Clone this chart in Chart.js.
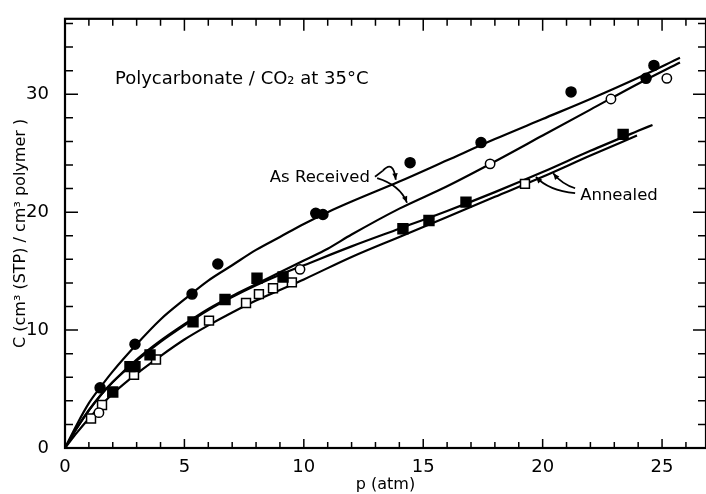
<!DOCTYPE html>
<html lang="en">
<head>
<meta charset="UTF-8">
<title>Polycarbonate / CO2 at 35°C</title>
<script src="https://cdn.jsdelivr.net/npm/chart.js"></script>
<style>
  html, body { margin: 0; padding: 0; background: #fff; }
</style>
</head>
<body>
<canvas id="chart" width="706" height="494"></canvas>
<script>
// measured points: p in atm, C in cm3(STP)/cm3 polymer
var arSorbP = [1.47, 2.93, 5.32, 6.4, 10.5, 10.8, 14.45, 17.42, 21.19, 24.33, 24.66];
var arSorbC = [5.1, 8.8, 13.05, 15.6, 19.9, 19.8, 24.2, 25.9, 30.2, 31.35, 32.45];
var arDesP = [1.42, 9.84, 17.8, 22.86, 25.2];
var arDesC = [3.0, 15.15, 24.1, 29.6, 31.35];
var anSorbP = [2.0, 2.72, 2.93, 3.56, 5.36, 6.7, 8.04, 9.13, 14.15, 15.24, 16.79, 23.37];
var anSorbC = [4.75, 6.9, 6.9, 7.9, 10.7, 12.6, 14.4, 14.5, 18.6, 19.3, 20.85, 26.6];
var anDesP = [1.09, 1.55, 2.89, 3.81, 6.03, 7.58, 8.12, 8.71, 9.5, 19.26];
var anDesC = [2.5, 3.65, 6.2, 7.5, 10.8, 12.3, 13.05, 13.55, 14.05, 22.4];

// smooth curves drawn through the data
var arFitP = [0, 0.5, 1, 1.5, 2, 3, 4, 5, 6, 7, 8, 9, 10, 11, 12, 14, 16, 18, 20, 22, 24, 25.75];
var arSorbFit = [0, 2.0, 3.8, 5.2, 6.5, 8.8, 10.9, 12.6, 14.2, 15.5, 16.8, 17.9, 19.0, 20.0, 20.9, 22.6, 24.4, 26.2, 27.9, 29.6, 31.4, 33.1];
var arDesFit = [0, 1.7, 3.2, 4.5, 5.6, 7.5, 9.1, 10.5, 11.8, 12.9, 13.9, 14.9, 15.9, 16.9, 18.1, 20.3, 22.2, 24.3, 26.5, 28.7, 30.9, 32.7];
var anSorbFitP = [0, 0.5, 1, 1.5, 2, 3, 4, 5, 6, 7, 8, 9, 10, 12, 14, 16, 18, 20, 22, 24, 24.6];
var anSorbFit = [0, 1.7, 3.2, 4.5, 5.6, 7.4, 9.0, 10.4, 11.7, 12.8, 13.8, 14.7, 15.5, 17.1, 18.6, 20.1, 21.7, 23.4, 25.2, 26.9, 27.4];
var anDesFitP = [0, 0.5, 1, 1.5, 2, 3, 4, 5, 6, 7, 8, 9, 10, 12, 14, 16, 18, 20, 22, 23.95];
var anDesFit = [0, 1.3, 2.5, 3.6, 4.6, 6.3, 7.8, 9.2, 10.4, 11.5, 12.5, 13.4, 14.3, 16.2, 17.9, 19.6, 21.3, 23.0, 24.8, 26.5];

var xLabels = [0, 5, 10, 15, 20, 25];
var yLabels = [0, 10, 20, 30];

var FONT = 'DejaVu Sans';
var INK = '#000';

function pts(xs, ys) {
  return xs.map(function (x, i) { return { x: x, y: ys[i] }; });
}

function curve(xs, ys) {
  return {
    type: 'line', data: pts(xs, ys), borderColor: INK, borderWidth: 2.2,
    pointRadius: 0, fill: false, cubicInterpolationMode: 'monotone', order: 2
  };
}

function marks(xs, ys, style, filled, r) {
  return {
    type: 'scatter', data: pts(xs, ys), pointStyle: style, pointRadius: r,
    backgroundColor: filled ? INK : '#fff', borderColor: INK, borderWidth: 1.5, order: 1
  };
}

// arrow: quadratic path from a through ctrl to b, head at b
function arrow(ctx, a, c, b) {
  ctx.beginPath();
  ctx.moveTo(a[0], a[1]);
  ctx.quadraticCurveTo(c[0], c[1], b[0], b[1]);
  ctx.stroke();
  var ang = Math.atan2(b[1] - c[1], b[0] - c[0]);
  ctx.beginPath();
  ctx.moveTo(b[0], b[1]);
  ctx.lineTo(b[0] - 7 * Math.cos(ang - 0.4), b[1] - 7 * Math.sin(ang - 0.4));
  ctx.lineTo(b[0] - 7 * Math.cos(ang + 0.4), b[1] - 7 * Math.sin(ang + 0.4));
  ctx.closePath();
  ctx.fill();
}

// frame with inward ticks on all four sides, plus the labels and arrows
var framePlugin = {
  id: 'frame',
  afterDatasetsDraw: function (chart) {
    var ctx = chart.ctx, a = chart.chartArea;
    var xs = chart.scales.x, ys = chart.scales.y;
    function P(p, c) { return [xs.getPixelForValue(p), ys.getPixelForValue(c)]; }
    ctx.save();
    ctx.strokeStyle = INK;
    ctx.fillStyle = INK;
    ctx.lineWidth = 2.2;
    ctx.strokeRect(a.left, a.top, a.right - a.left, a.bottom - a.top);
    ctx.lineWidth = 1.5;
    ctx.beginPath();
    for (var p = 1; p <= 26; p++) {
      var x = xs.getPixelForValue(p), big = p % 5 === 0;
      ctx.moveTo(x, a.bottom); ctx.lineTo(x, a.bottom - (big ? 9 : 6));
      ctx.moveTo(x, a.top); ctx.lineTo(x, a.top + (big ? 12 : 7));
    }
    for (var c = 2; c <= 36; c += 2) {
      var y = ys.getPixelForValue(c), bigY = c % 10 === 0;
      ctx.moveTo(a.left, y); ctx.lineTo(a.left + (bigY ? 13 : 8), y);
      ctx.moveTo(a.right, y); ctx.lineTo(a.right - (bigY ? 13 : 8), y);
    }
    ctx.stroke();

    ctx.textBaseline = 'alphabetic';
    ctx.font = '18px "' + FONT + '"';
    var t = P(2.09, 30.9);
    ctx.textAlign = 'left';
    ctx.fillText('Polycarbonate / CO\u2082 at 35\u00B0C', t[0], t[1]);
    ctx.font = '16.5px "' + FONT + '"';
    t = P(12.77, 22.54);
    ctx.textAlign = 'right';
    ctx.fillText('As Received', t[0], t[1]);
    t = P(21.57, 21.0);
    ctx.textAlign = 'left';
    ctx.fillText('Annealed', t[0], t[1]);

    ctx.lineWidth = 1.8;
    // brace and arrows from "As Received"
    var s = P(12.98, 23.0), k = P(13.3, 23.5);
    ctx.beginPath(); ctx.moveTo(s[0], s[1]); ctx.lineTo(k[0], k[1]); ctx.stroke();
    arrow(ctx, k, P(13.75, 24.5), P(13.85, 22.75));
    arrow(ctx, P(13.07, 22.88), P(14.03, 22.29), P(14.32, 20.8));
    // arrows from "Annealed"
    arrow(ctx, P(21.36, 21.61), P(20.23, 21.86), P(19.72, 23.0));
    arrow(ctx, P(21.36, 22.03), P(20.81, 22.37), P(20.44, 23.3));
    ctx.restore();
  }
};

function fixedTicks(values) {
  return function (scale) {
    scale.ticks = values.map(function (v) { return { value: v }; });
  };
}

new Chart(document.getElementById('chart'), {
  data: {
    datasets: [
      curve(arFitP, arSorbFit),
      curve(arFitP, arDesFit),
      curve(anSorbFitP, anSorbFit),
      curve(anDesFitP, anDesFit),
      marks(arSorbP, arSorbC, 'circle', true, 5),
      marks(arDesP, arDesC, 'circle', false, 4.7),
      marks(anSorbP, anSorbC, 'rect', true, 7),
      marks(anDesP, anDesC, 'rect', false, 6.3)
    ]
  },
  options: {
    responsive: false,
    animation: false,
    devicePixelRatio: 1,
    layout: { autoPadding: false, padding: { top: 18, right: 0, bottom: 0, left: 0 } },
    plugins: { legend: { display: false }, tooltip: { enabled: false } },
    scales: {
      x: {
        type: 'linear', min: 0, max: 26.84,
        grid: { display: false }, border: { display: false },
        afterBuildTicks: fixedTicks(xLabels),
        afterFit: function (s) { s.height = 46; s.paddingRight = 0; s.paddingLeft = 0; },
        ticks: {
          autoSkip: false, padding: 1, maxRotation: 0, color: INK,
          font: { family: FONT, size: 18 }
        },
        title: { display: true, text: 'p (atm)', color: INK, font: { family: FONT, size: 16 }, padding: 0 }
      },
      y: {
        type: 'linear', min: 0, max: 36.4,
        grid: { display: false }, border: { display: false },
        afterBuildTicks: fixedTicks(yLabels),
        afterFit: function (s) { s.width = 65; },
        ticks: {
          autoSkip: false, padding: 8, color: INK,
          font: { family: FONT, size: 18 }
        },
        title: { display: true, text: 'C (cm\u00B3 (STP) / cm\u00B3 polymer )', color: INK, font: { family: FONT, size: 16 }, padding: { top: 11 } }
      }
    }
  },
  plugins: [framePlugin]
});
</script>
</body>
</html>
